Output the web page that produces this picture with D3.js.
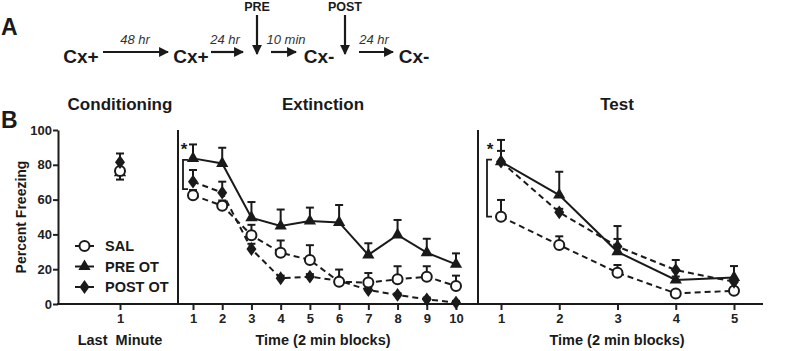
<!DOCTYPE html>
<html>
<head>
<meta charset="utf-8">
<script src="https://cdn.jsdelivr.net/npm/d3@7"></script>
<style>
  body { margin: 0; background: #fff; }
  svg { font-family: Arial, "Liberation Sans", sans-serif; }
  .tick text { font-family: Arial, "Liberation Sans", sans-serif; font-size: 13px; font-weight: bold; fill: #222; }
  .tick line { stroke: #222; stroke-width: 2; }
</style>
</head>
<body>
<div id="chart"></div>
<script>
// ---- data ----
const groups = ["SAL", "PRE OT", "POST OT"];

// Conditioning, last minute
const condSAL = [76.5], condSALErr = [0];
const condPRE = [75.5], condPREErr = [-4];
const condPOST = [81.5], condPOSTErr = [5];

// Extinction, blocks 1..10
const extBlocks = [1, 2, 3, 4, 5, 6, 7, 8, 9, 10];
const extSAL = [62.5, 56.5, 39.5, 29.5, 25.3, 12.8, 12.3, 14.2, 15.7, 10.3];
const extSALErr = [3, 3, 6, 7, 8.5, 7, 5.5, 7.5, 6, 6];
const extPRE = [83.7, 80.8, 49.6, 44.8, 47.7, 46.9, 28.2, 39.7, 29.5, 22.8];
const extPREErr = [8, 9, 9, 9.5, 7.7, 10, 6.7, 8.6, 8, 6.3];
const extPOST = [70.3, 64, 31.6, 14.8, 15.7, 13.4, 8, 5.2, 2.7, 0.8];
const extPOSTErr = [6.7, 6.3, 3, 1.5, 1.5, 1.5, 1.5, 1, 1, 1];

// Test, blocks 1..5
const testBlocks = [1, 2, 3, 4, 5];
const testSAL = [50.2, 33.9, 18, 6.1, 7.6];
const testSALErr = [9.6, 5, 4.4, 1.5, 2];
const testPRE = [81.8, 62.6, 30, 13.8, 15.3];
const testPREErr = [12.5, 13.4, 7.4, 2, 6.5];
const testPOST = [81.8, 52.7, 33, 19.5, 12.8];
const testPOSTErr = [6.2, 2, 11.8, 5.8, 2];

const yTicks = [0, 20, 40, 60, 80, 100];

// ---- layout ----
const W = 789, H = 351;
const svg = d3.select("#chart").append("svg")
    .attr("width", W)
    .attr("height", H);

const y = d3.scaleLinear().domain([0, 100]).range([304, 130]);
const xCond = d3.scaleLinear().domain([0, 2]).range([58, 182]);
const xExt = d3.scaleLinear().domain([1, 10]).range([193, 456]);
const xTest = d3.scaleLinear().domain([1, 5]).range([501, 734]);

const ink = "#1a1a1a";

// ---- panel A: timeline ----
const A = svg.append("g");
A.append("text").attr("x", 1).attr("y", 35).text("A")
    .style("font-size", "23px").style("font-weight", "bold").attr("fill", ink);

svg.append("defs").append("marker")
    .attr("id", "arr")
    .attr("viewBox", "0 0 10 10")
    .attr("refX", 9).attr("refY", 5)
    .attr("markerWidth", 4.5).attr("markerHeight", 4.5)
    .attr("markerUnits", "strokeWidth")
    .attr("orient", "auto")
    .append("path").attr("d", "M0,0 L10,5 L0,10 Z").attr("fill", ink);

const cxLabels = [
    {t: "Cx+", x: 81}, {t: "Cx+", x: 191}, {t: "Cx-", x: 319}, {t: "Cx-", x: 414}
];
A.selectAll(".cx").data(cxLabels).enter().append("text")
    .attr("x", d => d.x).attr("y", 63)
    .attr("text-anchor", "middle")
    .style("font-size", "19px").style("font-weight", "bold")
    .attr("fill", ink).text(d => d.t);

const arrows = [
    {x1: 103, x2: 168, t: "48 hr", lx: 135},
    {x1: 211, x2: 243, t: "24 hr", lx: 225},
    {x1: 271, x2: 296, t: "10 min", lx: 286},
    {x1: 359, x2: 393, t: "24 hr", lx: 374}
];
A.selectAll(".arr").data(arrows).enter().append("line")
    .attr("x1", d => d.x1).attr("x2", d => d.x2)
    .attr("y1", 52).attr("y2", 52)
    .attr("stroke", ink).attr("stroke-width", 2.2)
    .attr("marker-end", "url(#arr)");
A.selectAll(".arrlab").data(arrows).enter().append("text")
    .attr("x", d => d.lx).attr("y", 44)
    .attr("text-anchor", "middle")
    .style("font-size", "13px").style("font-style", "italic")
    .attr("fill", "#333").text(d => d.t);

const drops = [{x: 257, t: "PRE"}, {x: 345, t: "POST"}];
A.selectAll(".drop").data(drops).enter().append("line")
    .attr("x1", d => d.x).attr("x2", d => d.x)
    .attr("y1", 15).attr("y2", 54)
    .attr("stroke", ink).attr("stroke-width", 2.2)
    .attr("marker-end", "url(#arr)");
A.selectAll(".droplab").data(drops).enter().append("text")
    .attr("x", d => d.x).attr("y", 11)
    .attr("text-anchor", "middle")
    .style("font-size", "12.5px").style("font-weight", "bold")
    .attr("fill", ink).text(d => d.t);

// ---- panel B ----
svg.append("text").attr("x", 1).attr("y", 128).text("B")
    .style("font-size", "23px").style("font-weight", "bold").attr("fill", ink);

const titles = [{t: "Conditioning", x: 120}, {t: "Extinction", x: 323}, {t: "Test", x: 617}];
svg.selectAll(".ptitle").data(titles).enter().append("text")
    .attr("x", d => d.x).attr("y", 110)
    .attr("text-anchor", "middle")
    .style("font-size", "17px").style("font-weight", "bold")
    .attr("fill", ink).text(d => d.t);

// y axis
const yAxis = svg.append("g")
    .attr("transform", "translate(58,0)")
    .call(d3.axisLeft(y).tickValues(yTicks).tickSize(5).tickSizeOuter(0));
yAxis.select(".domain").attr("stroke", ink).attr("stroke-width", 2);
yAxis.selectAll(".tick text").attr("x", -6);

svg.append("text")
    .attr("transform", "translate(26,217) rotate(-90)")
    .attr("text-anchor", "middle")
    .style("font-size", "14px").style("font-weight", "bold")
    .attr("fill", ink).text("Percent Freezing");

// bottom axes
function bottomAxis(scale, ticks) {
    const g = svg.append("g")
        .attr("transform", "translate(0,304)")
        .call(d3.axisBottom(scale).tickValues(ticks).tickFormat(d3.format("d")).tickSize(6).tickSizeOuter(0));
    g.select(".domain").remove();
    g.selectAll(".tick text").attr("y", 10);
    return g;
}
bottomAxis(xCond, [1]);
bottomAxis(xExt, extBlocks);
bottomAxis(xTest, testBlocks);

svg.append("line")
    .attr("x1", 57).attr("x2", 763).attr("y1", 304).attr("y2", 304)
    .attr("stroke", ink).attr("stroke-width", 2);

[178, 478].forEach(function(xx) {
    svg.append("line")
        .attr("x1", xx).attr("x2", xx).attr("y1", 130).attr("y2", 304)
        .attr("stroke", ink).attr("stroke-width", 2);
});

const xlabels = [{t: "Last  Minute", x: 120}, {t: "Time (2 min blocks)", x: 323}, {t: "Time (2 min blocks)", x: 617}];
svg.selectAll(".xlab").data(xlabels).enter().append("text")
    .attr("x", d => d.x).attr("y", 345)
    .attr("text-anchor", "middle")
    .style("font-size", "14.5px").style("font-weight", "bold")
    .style("white-space", "pre").attr("xml:space", "preserve")
    .attr("fill", ink).text(d => d.t);

// ---- series drawing ----
const styles = {
    "SAL": {dash: "6,4", marker: "circle"},
    "PRE OT": {dash: null, marker: "triangle"},
    "POST OT": {dash: "6,4", marker: "diamond"}
};

function drawMarker(g, type, cx, cy) {
    if (type === "circle") {
        g.append("circle").attr("cx", cx).attr("cy", cy).attr("r", 5)
            .attr("fill", "#fff").attr("stroke", ink).attr("stroke-width", 2);
    } else {
        const sym = type === "triangle" ? d3.symbolTriangle : d3.symbolDiamond;
        const size = type === "triangle" ? 65 : 55;
        g.append("path").attr("d", d3.symbol().type(sym).size(size)())
            .attr("transform", "translate(" + cx + "," + cy + ")" + (type === "diamond" ? " scale(1.25,1)" : ""))
            .attr("fill", ink);
    }
}

function drawSeries(x, xs, vals, errs, name, withLine) {
    const st = styles[name];
    const g = svg.append("g");
    // error bars
    xs.forEach(function(b, i) {
        if (!errs[i]) return;
        const y0 = y(vals[i]), y1 = y(vals[i] + errs[i]);
        g.append("line").attr("x1", x(b)).attr("x2", x(b)).attr("y1", y0).attr("y2", y1)
            .attr("stroke", ink).attr("stroke-width", 2);
        g.append("line").attr("x1", x(b) - 4).attr("x2", x(b) + 4).attr("y1", y1).attr("y2", y1)
            .attr("stroke", ink).attr("stroke-width", 2);
    });
    if (withLine) {
        const line = d3.line().x((d, i) => x(xs[i])).y(d => y(d));
        g.append("path").attr("d", line(vals))
            .attr("fill", "none").attr("stroke", ink).attr("stroke-width", 2)
            .attr("stroke-dasharray", st.dash);
    }
    xs.forEach(function(b, i) { drawMarker(g, st.marker, x(b), y(vals[i])); });
}

// conditioning (no connecting lines)
drawSeries(xCond, [1], condPRE, condPREErr, "PRE OT", false);
drawSeries(xCond, [1], condSAL, condSALErr, "SAL", false);
drawSeries(xCond, [1], condPOST, condPOSTErr, "POST OT", false);

drawSeries(xExt, extBlocks, extPOST, extPOSTErr, "POST OT", true);
drawSeries(xExt, extBlocks, extSAL, extSALErr, "SAL", true);
drawSeries(xExt, extBlocks, extPRE, extPREErr, "PRE OT", true);

drawSeries(xTest, testBlocks, testSAL, testSALErr, "SAL", true);
drawSeries(xTest, testBlocks, testPOST, testPOSTErr, "POST OT", true);
drawSeries(xTest, testBlocks, testPRE, testPREErr, "PRE OT", true);

// significance brackets
function bracket(xx, vTop, vBot, starX) {
    const g = svg.append("g");
    g.append("path")
        .attr("d", "M" + (xx + 5) + "," + y(vTop) + " H" + xx + " V" + y(vBot) + " H" + (xx + 5))
        .attr("fill", "none").attr("stroke", ink).attr("stroke-width", 1.8);
    g.append("text").attr("x", starX).attr("y", y(vTop) - 5)
        .attr("text-anchor", "middle")
        .style("font-size", "17px").style("font-weight", "bold")
        .attr("fill", ink).text("*");
}
bracket(183, 82.8, 66, 184);
bracket(487, 83, 50.2, 490);

// legend
const leg = svg.append("g");
groups.forEach(function(name, i) {
    const ly = 246 + i * 20.5;
    leg.append("line").attr("x1", 75).attr("x2", 94).attr("y1", ly).attr("y2", ly)
        .attr("stroke", ink).attr("stroke-width", 2);
    drawMarker(leg, styles[name].marker, 84.5, ly);
    leg.append("text").attr("x", 105).attr("y", ly + 5)
        .style("font-size", "14.5px").style("font-weight", "bold")
        .attr("fill", ink).text(name);
});
</script>
</body>
</html>
